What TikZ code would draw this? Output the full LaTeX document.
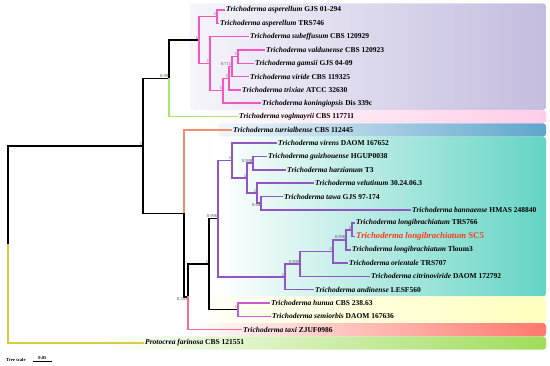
\documentclass[tikz,border=0pt]{standalone}
\usepackage{fontspec}
\setmainfont{Liberation Serif}
\usetikzlibrary{calc}
\definecolor{cPink}{RGB}{245,85,188}
\definecolor{cGreen}{RGB}{168,230,108}
\definecolor{cOrange}{RGB}{246,140,110}
\definecolor{cPurple}{RGB}{146,86,196}
\definecolor{cViolet}{RGB}{200,90,215}
\definecolor{cTaxi}{RGB}{250,108,150}
\definecolor{cOlive}{RGB}{214,204,64}
\definecolor{focalred}{RGB}{250,60,30}
\definecolor{suppgray}{RGB}{80,80,80}
\tikzset{
    tree diagram/.style = {x=1pt, y=-1pt},
    branch/.style       = {line width=1.5pt, line cap=rect},
    taxon/.style        = {anchor=west, inner sep=2pt,
                           font=\fontsize{7.5}{8}\selectfont\bfseries},
    focal/.style        = {taxon, text=focalred,
                           font=\fontsize{8.8}{9}\selectfont\bfseries},
    support/.style      = {anchor=south east, inner sep=0.6pt, text=suppgray,
                           font=\fontsize{4.6}{5}\selectfont},
    support low/.style  = {support, anchor=north east},
    band/.style         = {rounded corners=3pt}
}

\begin{document}
\begin{tikzpicture}[tree diagram]
\useasboundingbox (0,0) rectangle (550,365);

% ================= Clade shading =================
\shade[band, left color={rgb,255:red,246;green,245;blue,251}, right color={rgb,255:red,195;green,188;blue,222}]
    (190,3.3) rectangle (546,109.9);
\shade[band, left color=white, right color={rgb,255:red,255;green,205;blue,232}]
    (190,109.9) rectangle (546,123.3);
\shade[band, left color={rgb,255:red,240;green,246;blue,249}, right color={rgb,255:red,95;green,165;blue,205}]
    (218,123.3) rectangle (546,136.6);
\shade[band, left color=white, right color={rgb,255:red,100;green,212;blue,196}]
    (218,136.6) rectangle (546,296.4);
\shade[band, left color={rgb,255:red,255;green,255;blue,245}, right color={rgb,255:red,255;green,255;blue,190}]
    (210,296.4) rectangle (546,323);
\shade[band, left color=white, right color={rgb,255:red,255;green,120;blue,110}]
    (190,323) rectangle (546,336.4);
\shade[band, left color=white, right color={rgb,255:red,160;green,220;blue,90}]
    (100,336.4) rectangle (546,349.7);

% ================= Internal nodes =================
\coordinate (nRoot) at (8,244.5);
\coordinate (nA) at (143,145.9);
\coordinate (nB) at (169,78.4);
\coordinate (nD) at (199,40.2);
\coordinate (nE) at (217,16.7);
\coordinate (nF) at (210,63.7);
\coordinate (nG) at (223,90.7);
\coordinate (nK) at (229,78.3);
\coordinate (nJ) at (232,66.6);
\coordinate (nI) at (238,56.6);
\coordinate (nC) at (184,213.4);
\coordinate (nL) at (188,297);
\coordinate (nM) at (209,264);
\coordinate (nN) at (218,218.7);
\coordinate (nO) at (238,309.7);
\coordinate (nP) at (232,160.6);
\coordinate (nV) at (247,178);
\coordinate (nZ) at (253,163);
\coordinate (nX) at (257,193);
\coordinate (nY) at (261,203);
\coordinate (nQ) at (285,276.8);
\coordinate (nR) at (300,264);
\coordinate (nS) at (333,251.5);
\coordinate (nU) at (346,239.8);
\coordinate (nT) at (352,229.8);

% ================= Taxa =================
\node[taxon] (asp1) at (224,10) {\textit{Trichoderma asperellum} GJS 01-294};
\node[taxon] (asp2) at (218,23.3) {\textit{Trichoderma asperellum} TRS746};
\node[taxon] (sube) at (248,36.6) {\textit{Trichoderma subeffusum} CBS 120929};
\node[taxon] (vald) at (264,50) {\textit{Trichoderma valdunense} CBS 120923};
\node[taxon] (gams) at (253,63.3) {\textit{Trichoderma gamsii} GJS 04-09};
\node[taxon] (viri) at (248,76.6) {\textit{Trichoderma viride} CBS 119325};
\node[taxon] (trix) at (240,89.9) {\textit{Trichoderma trixiae} ATCC 32630};
\node[taxon] (koni) at (260,103.2) {\textit{Trichoderma koningiopsis} Dis 339c};
\node[taxon] (vogl) at (237,116.6) {\textit{Trichoderma voglmayrii} CBS 117711};
\node[taxon] (turr) at (231,129.9) {\textit{Trichoderma turrialbense} CBS 112445};
\node[taxon] (vire) at (276,143.2) {\textit{Trichoderma virens} DAOM 167652};
\node[taxon] (guiz) at (266,156.5) {\textit{Trichoderma guizhouense} HGUP0038};
\node[taxon] (harz) at (285,169.8) {\textit{Trichoderma harzianum} T3};
\node[taxon] (velu) at (313,183.2) {\textit{Trichoderma velutinum} 30.24.06.3};
\node[taxon] (tawa) at (282,196.5) {\textit{Trichoderma tawa} GJS 97-174};
\node[taxon] (bann) at (410,209.8) {\textit{Trichoderma bannaense} HMAS 248840};
\node[taxon] (lon1) at (354,223.1) {\textit{Trichoderma longibrachiatum} TRS766};
\node[focal] (lon2) at (354,236.4) {\textit{Trichoderma longibrachiatum} SC5};
\node[taxon] (lon3) at (350,249.8) {\textit{Trichoderma longibrachiatum} Tloum3};
\node[taxon] (orie) at (347,263.1) {\textit{Trichoderma orientale} TRS707};
\node[taxon] (citr) at (369,276.4) {\textit{Trichoderma citrinoviride} DAOM 172792};
\node[taxon] (andi) at (313,289.7) {\textit{Trichoderma andinense} LESF560};
\node[taxon] (hunu) at (269,303) {\textit{Trichoderma hunua} CBS 238.63};
\node[taxon] (semi) at (270,316.4) {\textit{Trichoderma semiorbis} DAOM 167636};
\node[taxon] (taxi) at (241,329.7) {\textit{Trichoderma taxi} ZJUF0986};
\node[taxon] (prot) at (143,343) {\textit{Protocrea farinosa} CBS 121551};

% ================= Backbone =================
\draw[branch] (nRoot) |- (nA);
\draw[branch, cOlive] (nRoot) |- (prot.west);
\draw[branch] (nA) |- (nB);
\draw[branch] (nA) |- (nC);
\draw[branch] (nB) |- (nD);
\draw[branch, cGreen] (nB) |- (vogl.west);
\draw[branch, cOrange] (nC) |- (turr.west);
\draw[branch] (nC) |- (nL);
\draw[branch] (nL) |- (nM);
\draw[branch, cTaxi] (nL) |- (taxi.west);
\draw[branch] (nM) |- (nN);
\draw[branch] (nM) |- (nO);

% ================= Viride clade =================
\begin{scope}[cPink]
\draw[branch] (nD) |- (nE);
\draw[branch] (nE) |- (asp1.west);
\draw[branch] (nE) |- (asp2.west);
\draw[branch] (nD) |- (nF);
\draw[branch] (nF) |- (sube.west);
\draw[branch] (nF) |- (nG);
\draw[branch] (nG) |- (nK);
\draw[branch] (nG) |- (koni.west);
\draw[branch] (nK) |- (nJ);
\draw[branch] (nK) |- (trix.west);
\draw[branch] (nJ) |- (nI);
\draw[branch] (nJ) |- (viri.west);
\draw[branch] (nI) |- (vald.west);
\draw[branch] (nI) |- (gams.west);
\end{scope}

% ================= Harzianum / Longibrachiatum clades =================
\begin{scope}[cPurple]
\draw[branch] (nN) |- (nP);
\draw[branch] (nP) |- (vire.west);
\draw[branch] (nP) |- (nV);
\draw[branch] (nV) |- (nZ);
\draw[branch] (nZ) |- (guiz.west);
\draw[branch] (nZ) |- (harz.west);
\draw[branch] (nV) |- (nX);
\draw[branch] (nX) |- (velu.west);
\draw[branch] (nX) |- (nY);
\draw[branch] (nY) |- (tawa.west);
\draw[branch] (nY) |- (bann.west);
\draw[branch] (nN) |- (nQ);
\draw[branch] (nQ) |- (nR);
\draw[branch] (nQ) |- (andi.west);
\draw[branch] (nR) |- (nS);
\draw[branch] (nR) |- (citr.west);
\draw[branch] (nS) |- (nU);
\draw[branch] (nS) |- (orie.west);
\draw[branch] (nU) |- (nT);
\draw[branch] (nU) |- (lon3.west);
\draw[branch] (nT) |- (lon1.west);
\draw[branch] (nT) |- (lon2.west);
\end{scope}

% ================= Semiorbis clade =================
\draw[branch, cViolet] (nO) |- (hunu.west);
\draw[branch, cViolet] (nO) |- (semi.west);

% ================= Support values =================
\node[support] (sA) at (nA) {1};
\node[support] (sB) at (nB) {0.99};
\node[support] (sD) at (nD) {1};
\node[support] (sE) at (nE) {1};
\node[support] (sF) at (nF) {1};
\node[support] (sG) at (nG) {1};
\node[support] (sK) at (nK) {1};
\node[support] (sJ) at (nJ) {0.711};
\node[support] (sI) at (nI) {1};
\node[support low] (sL) at (nL) {0.345};
\node[support] (sM) at (nM) {1};
\node[support] (sN) at (nN) {0.996};
\node[support] (sP) at (nP) {1};
\node[support] (sV) at (nV) {1};
\node[support] (sZ) at (nZ) {0.998};
\node[support] (sX) at (nX) {1};
\node[support low] (sY) at (nY) {0.64};
\node[support] (sO) at (nO) {1};
\node[support] (sQ) at (nQ) {1};
\node[support] (sR) at (nR) {0.999};
\node[support] (sS) at (nS) {1};
\node[support] (sU) at (nU) {0.996};
\node[support] (sT) at (nT) {1};

% ================= Tree scale =================
\node[anchor=west, inner sep=0pt, font=\fontsize{4.6}{5}\selectfont\bfseries]
    (scaletxt) at (6,359.5) {Tree scale};
\coordinate (barL) at (33,361);
\coordinate (barR) at (52,361);
\draw[line width=0.7pt] (barL) -- (barR);
\node[anchor=south, inner sep=1pt, font=\fontsize{4.6}{5}\selectfont\bfseries]
    (scalelab) at ($(barL)!0.5!(barR)$) {0.05};

\end{tikzpicture}
\end{document}
